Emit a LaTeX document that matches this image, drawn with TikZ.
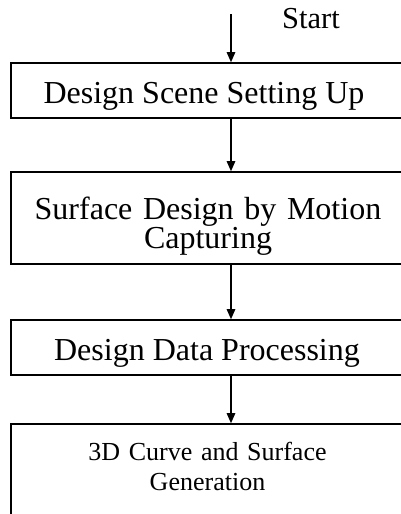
\documentclass[tikz,border=0pt]{standalone}
\usepackage{fontspec}
\setmainfont{Liberation Serif}
\usetikzlibrary{arrows.meta}
\begin{document}
\begin{tikzpicture}[x=1pt,y=-1pt,
  box/.style={draw, line width=1.6pt, rectangle, inner sep=0pt},
  lbl/.style={anchor=base, inner sep=0pt, align=center},
  big/.style={font=\fontsize{32}{29}\selectfont},
  small/.style={font=\fontsize{26}{30}\selectfont},
  arr/.style={line width=1.2pt, -{Triangle[length=10pt,width=8.5pt]}}]
\useasboundingbox (0,0) rectangle (401,514);
\clip (0,0) rectangle (401,514);
% boxes
\node[box, minimum width=392pt, minimum height=55pt] (b1) at (207,90.5) {};
\node[box, minimum width=392pt, minimum height=92pt] (b2) at (207,218) {};
\node[box, minimum width=392pt, minimum height=55pt] (b3) at (207,347.5) {};
\node[box, minimum width=392pt, minimum height=110pt] (b4) at (207,479) {};
% texts
\node[lbl, font=\fontsize{30.5}{30}\selectfont] (st) at (311,28) {Start};
\node[lbl, big] (t1) at (204,103) {Design Scene Setting Up};
\node[lbl, big, text width=380pt] (t2) at (208,219) {Surface Design by Motion\\Capturing};
\node[lbl, big] (t3) at (207,360) {Design Data Processing};
\node[lbl, small, text width=380pt] (t4) at (207.5,460) {3D Curve and Surface\\Generation};
% connectors
\coordinate (s0) at (231,14);
\draw[arr] (s0) -- (s0 |- b1.north);
\draw[arr] (s0 |- b1.south) -- (s0 |- b2.north);
\draw[arr] (s0 |- b2.south) -- (s0 |- b3.north);
\draw[arr] (s0 |- b3.south) -- (s0 |- b4.north);
\end{tikzpicture}
\end{document}
